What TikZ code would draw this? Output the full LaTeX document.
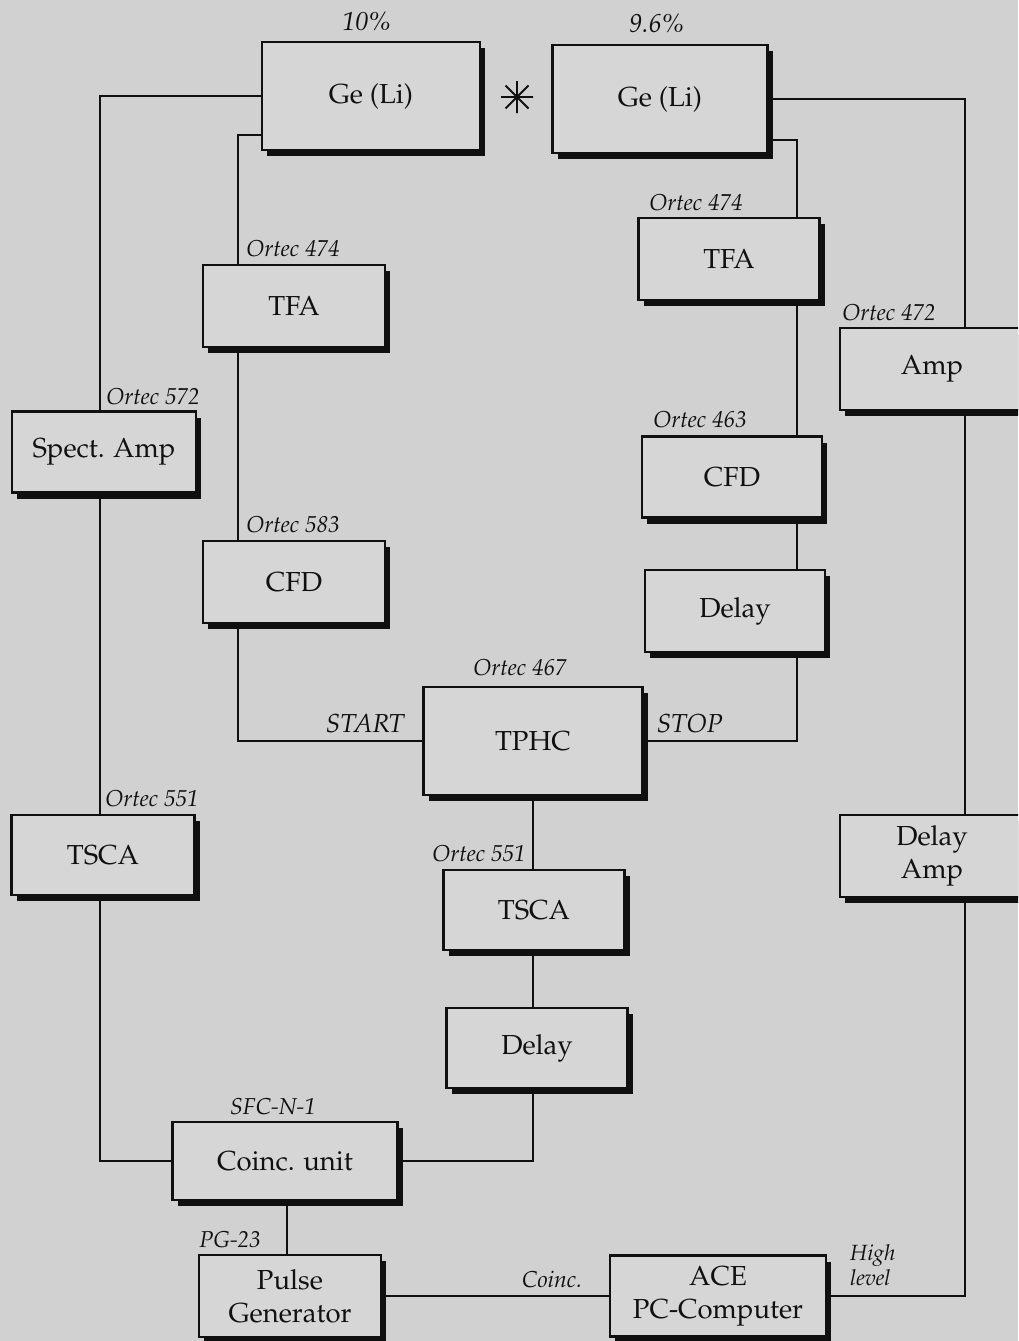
\documentclass[tikz,border=0pt]{standalone}
\usepackage[T1]{fontenc}
\usepackage{mathpazo}
\usepackage{tikz}
\usetikzlibrary{shadows, calc}
\definecolor{paper}{HTML}{D1D1D1}
\definecolor{boxfill}{HTML}{D6D6D6}
\definecolor{ink}{HTML}{101010}

\begin{document}
\begin{tikzpicture}[x=1pt, y=-1pt,
  unit/.style={draw=ink, line width=2.6pt, fill=boxfill, align=center,
    font=\fontsize{27.5}{33}\selectfont, text=ink, inner sep=0pt,
    drop shadow={shadow xshift=5pt, shadow yshift=-6pt, fill=ink, opacity=1}},
  tag/.style={font=\fontsize{23}{25}\selectfont\itshape, text=ink, inner sep=0pt},
  wire/.style={draw=ink, line width=1.7pt}]
  \fill[paper] (0,0) rectangle (1018,1341);
  \clip (0,0) rectangle (1018,1341);
  % bus lines
  \coordinate (busA) at (100,0);
  \coordinate (busB) at (238,0);
  \coordinate (busC) at (797,0);
  \coordinate (busD) at (965,0);
  \coordinate (busE) at (533,0);
  % detectors
  \node[unit, minimum width=218, minimum height=108] (geL) at (371,96) {Ge (Li)};
  \node[unit, minimum width=215, minimum height=108] (geR) at (660,99) {Ge (Li)};
  \node[tag, font=\fontsize{26}{28}\selectfont\itshape] (effL) at (367,22) {10\%};
  \node[tag, font=\fontsize{26}{28}\selectfont\itshape] (effR) at (657,24) {9.6\%};
  \draw[ink, line width=1.8pt] (517,97) +(0,-16) -- +(0,16) +(-16,0) -- +(16,0)
    +(-11.5,-11.5) -- +(11.5,11.5) +(-11.5,11.5) -- +(11.5,-11.5);
  % left timing branch
  \node[unit, minimum width=182, minimum height=82] (tfaL) at (294,306) {TFA};
  \node[unit, minimum width=182, minimum height=82] (cfdL) at (294,582) {CFD};
  \node[tag] (tagTfaL) at (293,249) {Ortec 474};
  \node[tag] (tagCfdL) at (293,525) {Ortec 583};
  % right timing branch
  \node[unit, minimum width=181, minimum height=82] (tfaR) at (729,259) {TFA};
  \node[unit, minimum width=180, minimum height=81] (cfdR) at (732,477) {CFD};
  \node[unit, minimum width=180, minimum height=82] (delayR) at (735,611) {Delay};
  \node[tag] (tagTfaR) at (696,203) {Ortec 474};
  \node[tag] (tagCfdR) at (700,420) {Ortec 463};
  % energy branches
  \node[unit, minimum width=184, minimum height=81] (spect) at (104,452) {Spect. Amp};
  \node[unit, minimum width=183, minimum height=80] (tscaL) at (103,855) {TSCA};
  \node[tag] (tagSpect) at (153,397) {Ortec 572};
  \node[tag] (tagTscaL) at (152,799) {Ortec 551};
  \node[unit, minimum width=184, minimum height=82] (amp) at (932,369) {Amp};
  \node[unit, minimum width=184, minimum height=82] (damp) at (932,856) {Delay\\Amp};
  \node[tag] (tagAmp) at (889,313) {Ortec 472};
  % time-to-amplitude chain
  \node[unit, minimum width=219, minimum height=108] (tphc) at (533,741) {TPHC};
  \node[unit, minimum width=181, minimum height=80] (tscaM) at (534,910) {TSCA};
  \node[unit, minimum width=181, minimum height=80] (delayM) at (537,1048) {Delay};
  \node[tag] (tagTphc) at (520,668) {Ortec 467};
  \node[tag] (tagTscaM) at (479,854) {Ortec 551};
  % coincidence and readout
  \node[unit, minimum width=225, minimum height=78] (coinc) at (285,1161) {Coinc. unit};
  \node[unit, minimum width=182, minimum height=82] (pulse) at (290,1296) {Pulse\\Generator};
  \node[unit, minimum width=216, minimum height=81] (ace) at (718,1296) {ACE\\PC-Computer};
  \node[tag] (tagCoinc) at (273,1107) {SFC-N-1};
  \node[tag] (tagPulse) at (230,1240) {PG-23};
  % connections
  \draw[wire] (geL.west) -| (busA |- spect.north);
  \draw[wire] (busA |- spect.south) -- (busA |- tscaL.north);
  \draw[wire] (busA |- tscaL.south) |- (coinc.west);
  \draw[wire] ([yshift=-39pt]geL.west) -| (busB |- tfaL.north);
  \draw[wire] (busB |- tfaL.south) -- (busB |- cfdL.north);
  \draw[wire] (busB |- cfdL.south) |- (tphc.west)
    node[tag, pos=0.845, above=7pt, font=\fontsize{26}{28}\selectfont\itshape] {START};
  \draw[wire] ([yshift=-41pt]geR.east) -| (busC |- tfaR.north);
  \draw[wire] (busC |- tfaR.south) -- (busC |- cfdR.north);
  \draw[wire] (busC |- cfdR.south) -- (busC |- delayR.north);
  \draw[wire] (busC |- delayR.south) |- (tphc.east)
    node[tag, pos=0.85, above=7pt, font=\fontsize{26}{28}\selectfont\itshape] {STOP};
  \draw[wire] (geR.east) -| (busD |- amp.north);
  \draw[wire] (busD |- amp.south) -- (busD |- damp.north);
  \draw[wire] (busD |- damp.south) |- (ace.east)
    node[tag, pos=1, anchor=south west, xshift=22pt, yshift=9pt, align=left,
      font=\fontsize{22}{25}\selectfont\itshape] {High\\level};
  \draw[wire] (tphc.south) -- (busE |- tscaM.north);
  \draw[wire] (busE |- tscaM.south) -- (busE |- delayM.north);
  \draw[wire] (busE |- delayM.south) |- (coinc.east);
  \draw[wire] (coinc.south -| 287,0) -- (pulse.north -| 287,0);
  \draw[wire] (pulse.east) -- (ace.west)
    node[tag, pos=0.75, above=7pt, font=\fontsize{23}{25}\selectfont\itshape] {Coinc.};
\end{tikzpicture}
\end{document}
